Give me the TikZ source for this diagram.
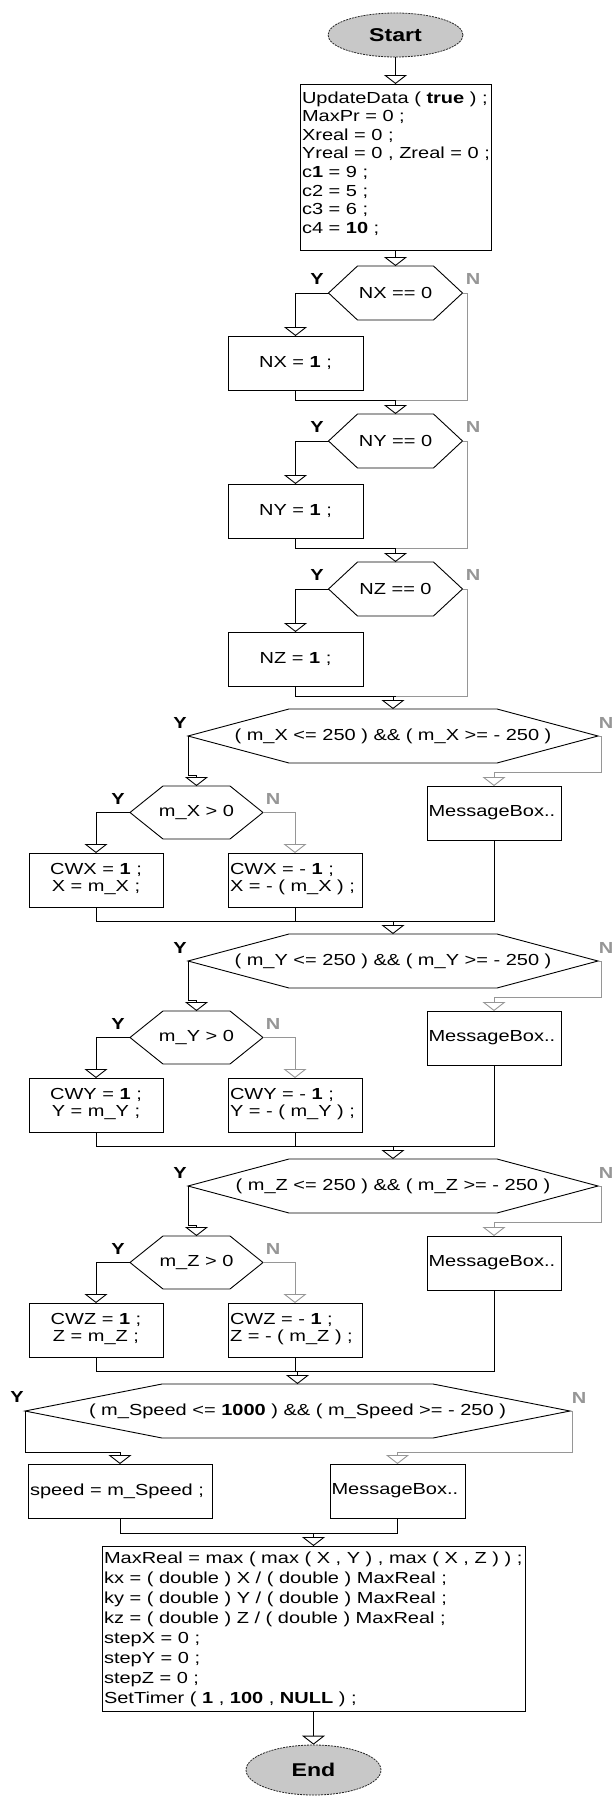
\documentclass[tikz,border=0pt]{standalone}
\usepackage{fontspec}
\setmainfont{Liberation Sans}
\usepackage{graphicx}
\usetikzlibrary{arrows.meta,shapes.geometric}
\definecolor{ngray}{RGB}{150,150,150}
\definecolor{efill}{RGB}{200,200,200}
\newcommand{\ST}[1]{\scalebox{1.25}[1]{#1}}
\newcommand{\hexoutline}[2]{\draw[shapeline] (#1.west) -- ([xshift=#2]#1.north west) -- ([xshift=-#2]#1.north east) -- (#1.east) -- ([xshift=-#2]#1.south east) -- ([xshift=#2]#1.south west) -- cycle;}
\tikzset{
 line/.style={draw=black, line width=0.9pt},
 nline/.style={draw=ngray, line width=0.9pt},
 arr/.style={-{Triangle[open,width=23pt,length=9pt]}},
 shapeline/.style={draw=black, line width=0.9pt},
 hexnode/.style={rectangle, inner sep=0pt, outer sep=0pt, minimum height=54pt, font=\fontsize{16}{18}\selectfont},
 boxnode/.style={rectangle, draw=black, line width=0.9pt, inner sep=0pt, outer sep=0pt, font=\fontsize{16}{18}\selectfont},
 txt/.style={inner sep=0pt, outer sep=0pt, font=\fontsize{16}{18.6}\selectfont},
 ylab/.style={inner sep=0pt, font=\fontsize{16}{18}\selectfont\bfseries, text=black},
 nlab/.style={inner sep=0pt, font=\fontsize{16}{18}\selectfont\bfseries, text=ngray},
 term/.style={ellipse, draw=black!85, dash pattern=on 2pt off 1pt, line width=0.8pt, fill=efill, minimum width=135pt, minimum height=44pt, inner sep=0pt, font=\fontsize{18.5}{20}\selectfont\bfseries},
}
\newcommand{\smallblk}[3]{%
 \node[hexnode, minimum width=134pt] (h#1) at (395.5,{#3+27}) {\ST{N#2 == 0}};
 \hexoutline{h#1}{29pt}
 \node[ylab] (hy#1) at (317,{#3+13}) {\ST{Y}};
 \node[nlab] (hn#1) at (473,{#3+13}) {\ST{N}};
 \node[boxnode, minimum width=135pt, minimum height=54pt] (b#1) at (295.5,{#3+97}) {\ST{N#2 = \textbf{1} ;}};
 \coordinate (m#1) at (395.5,{#3+134});
 \coordinate (n#1) at (467,{#3+134});
 \draw[line,arr] (h#1.west) -| (b#1.north);
 \draw[line] (b#1.south) |- (m#1);
 \draw[nline] (h#1.east) -| (n#1) -- (m#1);
}
\newcommand{\bigblk}[3]{%
 \node[hexnode, minimum width=410pt] (H#1) at (393,{#3+27}) {\ST{( m\_#2 <= 250 ) \&\& ( m\_#2 >= - 250 )}};
 \hexoutline{H#1}{101pt}
 \node[ylab] (Hy#1) at (180,{#3+14}) {\ST{Y}};
 \node[nlab] (Hn#1) at (606,{#3+14}) {\ST{N}};
 \node[hexnode, minimum width=133pt, minimum height=53pt] (s#1) at (196.5,{#3+103.5}) {\ST{m\_#2 > 0}};
 \hexoutline{s#1}{33pt}
 \node[ylab] (sy#1) at (118,{#3+90}) {\ST{Y}};
 \node[nlab] (sn#1) at (273,{#3+90}) {\ST{N}};
 \node[boxnode, minimum width=134pt, minimum height=54pt, font=\fontsize{16}{17}\selectfont] (p#1) at (96,{#3+171}) {\ST{\begin{tabular}{@{}c@{}}CW#2 = \textbf{1} ;\\#2 = m\_#2 ;\end{tabular}}};
 \node[boxnode, minimum width=134pt, minimum height=54pt] (q#1) at (295,{#3+171}) {};
 \node[txt, anchor=west, font=\fontsize{16}{17}\selectfont] (qt#1) at ([xshift=2pt]q#1.west) {\ST{\begin{tabular}{@{}l@{}}CW#2 = - \textbf{1} ;\\#2 = - ( m\_#2 ) ;\end{tabular}}};
 \node[boxnode, minimum width=134pt, minimum height=54pt] (mb#1) at (494,{#3+104}) {};
 \node[txt, anchor=west] (mbt#1) at ([xshift=1.5pt]mb#1.west) {\ST{MessageBox..}};
 \coordinate (yj#1) at (196.5,{#3+66});
 \coordinate (nb#1) at (601,{#3+63});
 \coordinate (j#1) at (393,{#3+212});
 \draw[line,arr] (H#1.west) |- (yj#1) -- (s#1.north);
 \draw[nline,arr] (H#1.east) -| (nb#1) -| (mb#1.north);
 \draw[line,arr] (s#1.west) -| (p#1.north);
 \draw[nline,arr] (s#1.east) -| (q#1.north);
 \draw[line] (p#1.south) |- (mb#1.south |- j#1) -- (mb#1.south);
 \draw[line] (q#1.south) -- (q#1.south |- j#1);
}
\begin{document}
\begin{tikzpicture}[x=1pt,y=-1pt]
\fill[white] (0,0) rectangle (613,1796);
\useasboundingbox (0,0) rectangle (613,1796);
% start
\node[term] (start) at (395.5,35) {\ST{Start}};
\node[boxnode, minimum width=191pt, minimum height=166pt] (box1) at (395.5,167) {};
\node[txt, anchor=west] (box1t) at (302,164.5) {\ST{\begin{tabular}{@{}l@{}}UpdateData ( \textbf{true} ) ;\\MaxPr = 0 ;\\Xreal = 0 ;\\Yreal = 0 , Zreal = 0 ;\\c\textbf{1} = 9 ;\\c2 = 5 ;\\c3 = 6 ;\\c4 = \textbf{10} ;\end{tabular}}};
\draw[line,arr] (start.south) -- (box1.north);
% small blocks
\smallblk{1}{X}{266}
\smallblk{2}{Y}{414}
\smallblk{3}{Z}{562}
\draw[line,arr] (box1.south) -- (h1.north);
\draw[line,arr] (h2.north |- m1) -- (h2.north);
\draw[line,arr] (h3.north |- m2) -- (h3.north);
% big blocks
\bigblk{X}{X}{709}
\bigblk{Y}{Y}{934}
\bigblk{Z}{Z}{1159}
\draw[line,arr] (HX.north |- m3) -- (HX.north);
\draw[line,arr] (HY.north |- jX) -- (HY.north);
\draw[line,arr] (HZ.north |- jY) -- (HZ.north);
% speed
\node[hexnode, minimum width=545pt] (SH) at (297.5,1411) {\ST{( m\_Speed <= \textbf{1000} ) \&\& ( m\_Speed >= - 250 )}};
\hexoutline{SH}{137pt}
\node[ylab] (SHy) at (17,1397) {\ST{Y}};
\node[nlab] (SHn) at (579,1398) {\ST{N}};
\draw[line,arr] (SH.north |- jZ) -- (SH.north);
\node[boxnode, minimum width=184pt, minimum height=54pt] (sp) at (120,1491) {};
\node[txt, anchor=west] (spt) at ([xshift=2pt]sp.west) {\ST{speed = m\_Speed ;}};
\node[boxnode, minimum width=135pt, minimum height=54pt] (smb) at (397.5,1491) {};
\node[txt, anchor=west] (smbt) at ([xshift=1.5pt]smb.west) {\ST{MessageBox..}};
\coordinate (sy) at (120,1452);
\coordinate (sn) at (572,1452);
\coordinate (sj) at (313.5,1533);
\draw[line,arr] (SH.west) |- (sy) -- (sp.north);
\draw[nline,arr] (SH.east) -| (sn) -| (smb.north);
\draw[line] (sp.south) |- (smb.south |- sj) -- (smb.south);
% final
\node[boxnode, minimum width=423pt, minimum height=165pt] (fin) at (313.5,1628.5) {};
\node[txt, anchor=west, font=\fontsize{16}{20.1}\selectfont] (fint) at (104,1629.5) {\ST{\begin{tabular}{@{}l@{}}MaxReal = max ( max ( X , Y ) , max ( X , Z ) ) ;\\kx = ( double ) X / ( double ) MaxReal ;\\ky = ( double ) Y / ( double ) MaxReal ;\\kz = ( double ) Z / ( double ) MaxReal ;\\stepX = 0 ;\\stepY = 0 ;\\stepZ = 0 ;\\SetTimer ( \textbf{1} , \textbf{100} , \textbf{NULL} ) ;\end{tabular}}};
\draw[line,arr] (fin.north |- sj) -- (fin.north);
\node[term, minimum height=50pt] (end) at (313.5,1770) {\ST{End}};
\draw[line,arr] (fin.south) -- (end.north);
\end{tikzpicture}
\end{document}
